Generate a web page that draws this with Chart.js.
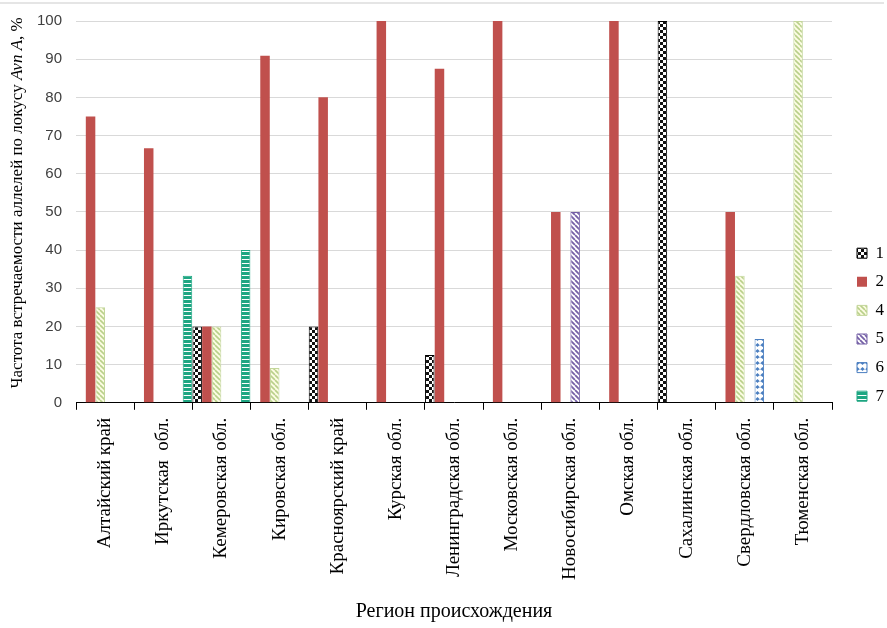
<!DOCTYPE html>
<html lang="ru">
<head>
    <meta charset="UTF-8">
    <title>Avn A</title>
    <style>
        body { margin: 0; background: #fff; }
        #myChart { display: block; }
    </style>
</head>
<body>
    <canvas id="myChart" width="887" height="628"></canvas>

    <script src="https://cdn.jsdelivr.net/npm/chart.js"></script>

    <script>
        // регионы и частоты аллелей (%)
        const regiony = ['Алтайский край', 'Иркутская  обл.', 'Кемеровская обл.', 'Кировская обл.',
            'Красноярский край', 'Курская обл.', 'Ленинградская обл.', 'Московская обл.',
            'Новосибирская обл.', 'Омская обл.', 'Сахалинская обл.', 'Свердловская обл.', 'Тюменская обл.']
        const allel1 = [null, null, 20, null, 20, null, 12.5, null, null, null, 100, null, null]
        const allel2 = [75, 66.7, 20, 90.9, 80, 100, 87.5, 100, 50, 100, null, 50, null]
        const allel4 = [25, null, 20, 9.1, null, null, null, null, null, null, null, 33.3, 100]
        const allel5 = [null, null, null, null, null, null, null, null, 50, null, null, null, null]
        const allel6 = [null, null, null, null, null, null, null, null, null, null, null, 16.7, null]
        const allel7 = [null, 33.3, 40, null, null, null, null, null, null, null, null, null, null]
        const yTitle = ['Частота встречаемости аллелей по локусу ', 'Avn A', ', %']

        const pattern = (w, h, draw) => {
            const c = document.createElement('canvas')
            c.width = w; c.height = h
            const g = c.getContext('2d')
            draw(g, w, h)
            return g.createPattern(c, 'repeat')
        }
        const hatch = (bg, fg, lw, size) => pattern(size, size, (g, w, h) => {
            g.fillStyle = bg; g.fillRect(0, 0, w, h)
            g.strokeStyle = fg; g.lineWidth = lw
            g.beginPath()
            for (let k = -w; k <= w; k += w) { g.moveTo(k, 0); g.lineTo(k + w, h) }
            g.stroke()
        })

        const shahmatka = pattern(6, 6, (g) => {
            g.fillStyle = '#fff'; g.fillRect(0, 0, 6, 6)
            g.fillStyle = '#111'; g.fillRect(0, 0, 3, 3); g.fillRect(3, 3, 3, 3)
        })
        const zelenaya = hatch('#fbfbe2', '#b9d08a', 1.6, 5)
        const lilovaya = hatch('#fff', '#7560a6', 1.8, 5)
        const romby = pattern(5, 6, (g) => {
            g.fillStyle = '#fff'; g.fillRect(0, 0, 5, 6)
            g.fillStyle = '#a9c2e2'; g.fillRect(0, 3, 5, 0.7)
            g.fillStyle = '#4a7ec0'
            g.beginPath(); g.moveTo(2.5, 1); g.lineTo(4.5, 3); g.lineTo(2.5, 5); g.lineTo(0.5, 3); g.closePath(); g.fill()
        })
        const polosy = pattern(4, 4, (g) => {
            g.fillStyle = '#1ea682'; g.fillRect(0, 0, 4, 4)
            g.fillStyle = '#fff'; g.fillRect(0, 3, 4, 1)
        })

        // подпись оси Y с курсивом для Avn A, рамка сверху, сдвиг легенды
        const yTitlePlugin = {
            id: 'yTitle',
            afterLayout(chart) {
                chart.legend.left += 7
                chart.legend.right += 7
            },
            afterDraw(chart) {
                const { ctx, chartArea } = chart
                const fonts = ['17px "Liberation Serif"', 'italic 17px "Liberation Serif"', '17px "Liberation Serif"']
                ctx.save()
                let total = 0
                const widths = yTitle.map((t, i) => { ctx.font = fonts[i]; const w = ctx.measureText(t).width; total += w; return w })
                ctx.translate(18, (chartArea.top + chartArea.bottom) / 2 - 9)
                ctx.rotate(-Math.PI / 2)
                ctx.fillStyle = '#000'
                ctx.textBaseline = 'middle'
                let x = -total / 2
                yTitle.forEach((t, i) => { ctx.font = fonts[i]; ctx.fillText(t, x, 0); x += widths[i] })
                ctx.restore()
            },
            beforeDraw(chart) {
                const ctx = chart.ctx
                ctx.save()
                ctx.strokeStyle = '#dcdcdc'
                ctx.lineWidth = 1.5
                ctx.beginPath(); ctx.moveTo(0, 3); ctx.lineTo(884, 3); ctx.stroke()
                ctx.restore()
            }
        }

        const noTopPad = (scale) => { scale.paddingTop = 0 }

        const ctx = document.getElementById('myChart')
        const myChart = new Chart(ctx, {
            type: 'bar',
            data: {
                labels: regiony,
                datasets: [
                    { label: '1', data: allel1, backgroundColor: shahmatka, borderColor: '#000', borderWidth: 1 },
                    { label: '2', data: allel2, backgroundColor: '#c0504d', borderColor: '#c0504d', borderWidth: 0 },
                    { label: '4', data: allel4, backgroundColor: zelenaya, borderColor: '#c3d69b', borderWidth: 1 },
                    { label: '5', data: allel5, backgroundColor: lilovaya, borderColor: '#7560a6', borderWidth: 1 },
                    { label: '6', data: allel6, backgroundColor: romby, borderColor: '#4a7ec0', borderWidth: 1 },
                    { label: '7', data: allel7, backgroundColor: polosy, borderColor: '#1ea682', borderWidth: 1 }
                ]
            },
            options: {
                responsive: false,
                animation: false,
                categoryPercentage: 1,
                barPercentage: 0.98,
                layout: { padding: { left: 23, top: 21, right: 0, bottom: 4 } },
                plugins: {
                    tooltip: { enabled: false },
                    legend: {
                        position: 'right',
                        title: { display: true, text: ' ', font: { size: 2 }, padding: 1 },
                        labels: {
                            boxWidth: 10, boxHeight: 10, padding: 11.6,
                            color: '#000',
                            font: { family: '"Liberation Serif"', size: 17 }
                        }
                    }
                },
                scales: {
                    x: {
                        offset: true,
                        border: { display: true, color: '#000', width: 1 },
                        grid: { offset: true, drawOnChartArea: false, drawTicks: true, tickLength: 7, tickColor: '#000' },
                        ticks: {
                            autoSkip: false, minRotation: 90, maxRotation: 90, padding: 8,
                            color: '#000',
                            font: { family: '"Liberation Serif"', size: 19 }
                        },
                        title: {
                            display: true, text: 'Регион происхождения', color: '#000',
                            font: { family: '"Liberation Serif"', size: 20 },
                            padding: { top: 12, bottom: 0 }
                        }
                    },
                    y: {
                        min: 0, max: 100,
                        border: { display: false },
                        grid: { color: '#d9d9d9', drawTicks: false },
                        ticks: {
                            stepSize: 10, padding: 14, color: '#404040',
                            font: { family: '"Liberation Sans"', size: 15 }
                        },
                        afterFit: noTopPad
                    },
                    // пустая ось справа — отступ перед легендой
                    gap: {
                        type: 'linear', axis: 'y', position: 'right', display: true,
                        border: { display: false }, grid: { display: false }, ticks: { display: false },
                        afterFit: (scale) => { scale.width = 6.4; scale.paddingTop = 0 }
                    }
                }
            },
            plugins: [yTitlePlugin]
        })
    </script>
</body>
</html>
